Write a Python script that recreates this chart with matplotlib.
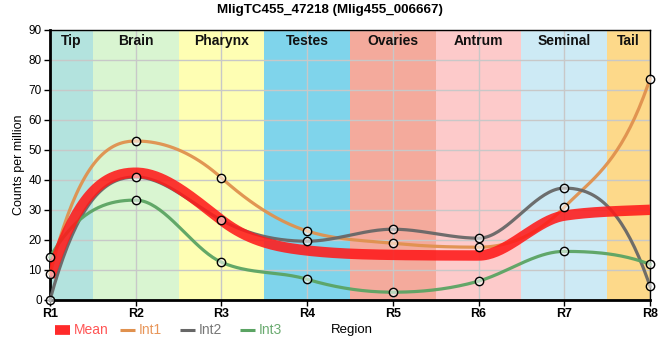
import numpy as np
import matplotlib
matplotlib.use('Agg')
import matplotlib.pyplot as plt
from matplotlib.lines import Line2D

plt.rcParams['font.family'] = ['Liberation Sans', 'DejaVu Sans']

# data
regions = ['R1', 'R2', 'R3', 'R4', 'R5', 'R6', 'R7', 'R8']
tissues = ['Tip', 'Brain', 'Pharynx', 'Testes', 'Ovaries', 'Antrum', 'Seminal', 'Tail']
tissue_colors = ['#b3e3de', '#d9f5d1', '#fefeb3', '#7fd4eb', '#f4aa9c', '#fdcaca', '#cdeaf5', '#fdd98a']
int1 = [8.7, 53.0, 40.7, 23.0, 18.9, 17.6, 30.9, 73.7]
int2 = [0.0, 41.0, 26.6, 19.6, 23.6, 20.6, 37.3, 4.6]
int3 = [14.3, 33.3, 12.6, 6.9, 2.6, 6.3, 16.2, 11.9]
mean = list(np.mean([int1, int2, int3], axis=0))


def smooth(x, y, k=1.7, lim=2.2, n=40):
    # monotone cubic with steeper tangents -> flat plateaus, sharper steps
    x = np.asarray(x, float)
    y = np.asarray(y, float)
    h = np.diff(x)
    s = np.diff(y) / h
    t = np.zeros(len(x))
    sg = lambda v: -1.0 if v < 0 else 1.0
    for i in range(1, len(x) - 1):
        p = (s[i - 1] * h[i] + s[i] * h[i - 1]) / (h[i - 1] + h[i])
        t[i] = (sg(s[i - 1]) + sg(s[i])) * min(abs(s[i - 1]), abs(s[i]), 0.5 * abs(p)) * k
        m = lim * min(abs(s[i - 1]), abs(s[i]))
        t[i] = np.clip(t[i], -m, m)
    t[0] = np.clip((3 * s[0] - t[1]) / 2 * k, -3 * abs(s[0]), 3 * abs(s[0]))
    t[-1] = np.clip((3 * s[-1] - t[-2]) / 2 * k, -3 * abs(s[-1]), 3 * abs(s[-1]))
    xs, ys = [], []
    for i in range(len(x) - 1):
        u = np.linspace(0, 1, n)
        h00 = 2 * u**3 - 3 * u**2 + 1
        h10 = u**3 - 2 * u**2 + u
        h01 = -2 * u**3 + 3 * u**2
        h11 = u**3 - u**2
        xs.append(x[i] + u * h[i])
        ys.append(h00 * y[i] + h10 * h[i] * t[i] + h01 * y[i + 1] + h11 * h[i] * t[i + 1])
    return np.concatenate(xs), np.concatenate(ys)


fig = plt.figure(figsize=(6.6, 3.6), dpi=100)
ax = fig.add_axes([50 / 660, 60 / 360, 600 / 660, 270 / 360])
xpos = np.arange(len(regions))

# tissue bands
for i, (name, c) in enumerate(zip(tissues, tissue_colors)):
    lo = max(i - 0.5, 0)
    hi = min(i + 0.5, len(regions) - 1)
    ax.axvspan(lo, hi, color=c, lw=0, zorder=0)
    ax.text((lo + hi) / 2, 86.3, name, ha='center', va='center', fontsize=10,
            fontweight='bold', color='#111111', zorder=5)

ax.set_xlim(0, len(regions) - 1)
ax.set_ylim(0, 90)
ax.set_yticks(range(0, 91, 10))
ax.set_xticks(xpos)
ax.set_xticklabels(regions, fontsize=9, fontweight='bold')
ax.tick_params(axis='y', labelsize=8.5, length=4, width=1, pad=2)
ax.tick_params(axis='x', length=4, width=1, pad=2)
ax.grid(True, color='#c8c8c8', lw=1, zorder=1)
ax.set_axisbelow(True)
for side in ['left', 'bottom']:
    ax.spines[side].set_linewidth(2)
for side in ['top', 'right']:
    ax.spines[side].set_linewidth(1)

series = [(int1, '#e0914e'), (int2, '#676767'), (int3, '#5ba463')]
for vals, c in series:
    sx, sy = smooth(xpos, vals)
    ax.plot(sx, sy, color=c, lw=2.3, alpha=0.95, zorder=3, clip_on=False)

mx, my = smooth(xpos, mean)
ax.plot(mx, my, color='#ff1a1a', lw=7.5, alpha=0.88, solid_capstyle='butt', zorder=4)

for vals, c in series:
    ax.plot(xpos, vals, ls='none', marker='o', ms=6, mfc=(1, 1, 1, 0.55),
            mec='black', mew=1, zorder=6, clip_on=False)

ax.set_ylabel('Counts per million', fontsize=9)
ax.yaxis.set_label_coords(-0.041, 0.5)
fig.text(0.5, 1 - 10 / 360, 'MligTC455_47218 (Mlig455_006667)', ha='center', va='center',
         fontsize=9.6, fontweight='bold')

# legend row
ly = 1 - 330 / 360
items = [('Mean', '#ff2a2a', '#ff5555', 7, 55, 70, 74),
         ('Int1', '#e0914e', '#e8965a', 2.2, 120, 135, 139),
         ('Int2', '#676767', '#777777', 2.2, 180, 195, 199),
         ('Int3', '#5ba463', '#6aab70', 2.2, 240, 255, 259)]
for label, lc, tc, lw, x0, x1, tx in items:
    fig.add_artist(Line2D([x0 / 660, x1 / 660], [ly, ly], color=lc, lw=lw, solid_capstyle='butt'))
    fig.text(tx / 660, ly, label, color=tc, fontsize=10, va='center', ha='left')
fig.text(331 / 660, ly, 'Region', fontsize=9.5, va='center', ha='left')

fig.savefig('out.png', dpi=100)
